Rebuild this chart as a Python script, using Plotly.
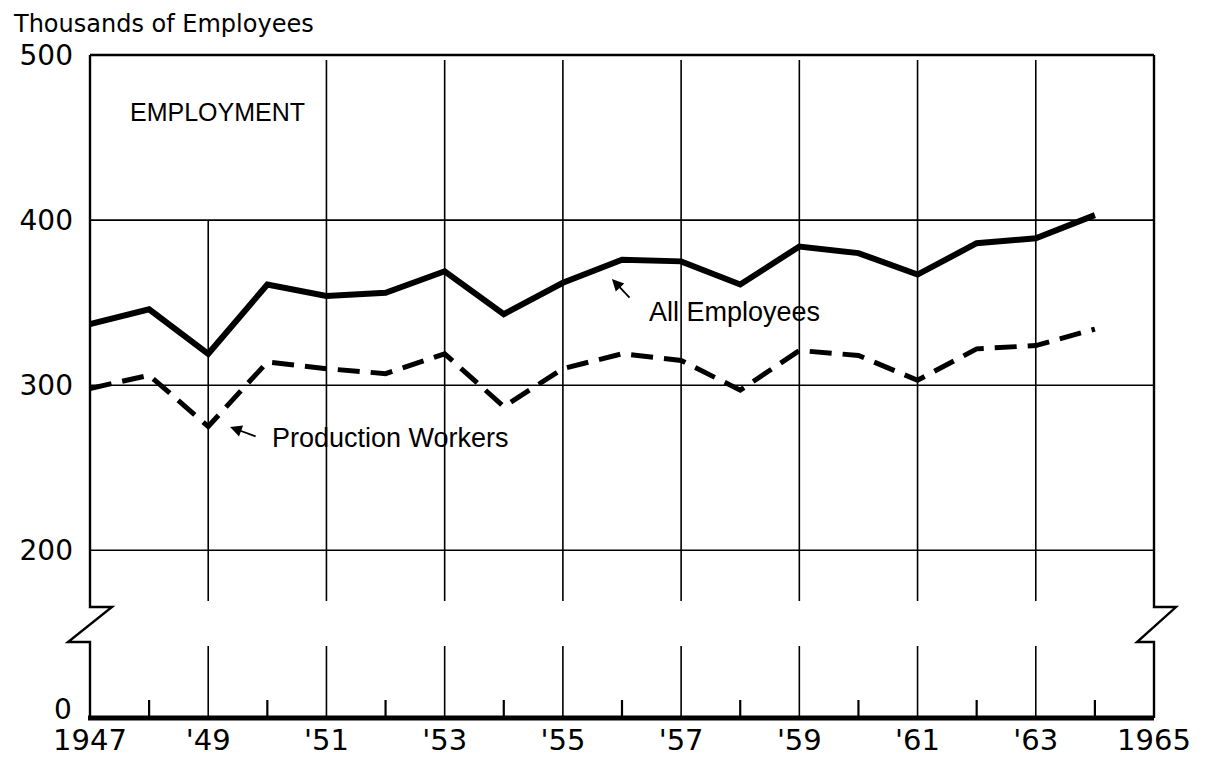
import plotly.graph_objects as go

# -------------------------------
# Data (thousands of employees)
# -------------------------------
years = list(range(1947, 1965))
all_employees = [337, 346, 319, 361, 354, 356, 369, 343, 362, 376, 375, 361, 384, 380, 367, 386, 389, 403]
production_workers = [298, 306, 275, 314, 310, 307, 319, 287, 310, 319, 315, 297, 321, 318, 303, 322, 324, 334]

x_tick_years = [1947, 1949, 1951, 1953, 1955, 1957, 1959, 1961, 1963, 1965]
x_tick_text = ["1947", "'49", "'51", "'53", "'55", "'57", "'59", "'61", "'63", "1965"]
y_tick_vals = [200, 300, 400, 500]
y_tick_text = ["200", "300", "400", "500"]

# -------------------------------
# Axis frame (broken scale: the "0" sits at the bottom of the frame)
# -------------------------------
X0, X1 = 1947, 1965
Y0, Y1 = 98.4, 500
BREAK_TOP, BREAK_BOT = 165.6, 144.4
W, H = 1064, 663  # plot area in px


def px(year):
    return (year - X0) / (X1 - X0)


def py(val):
    return (val - Y0) / (Y1 - Y0)


shapes = []
thin = dict(color="black", width=1.6)

# horizontal grid
for v in [200, 300, 400]:
    shapes.append(dict(type="line", xref="paper", yref="paper", x0=0, x1=1,
                       y0=py(v), y1=py(v), line=thin))

# vertical grid (odd years) and small ticks (even years)
for yr in range(1949, 1965, 2):
    top = 400 if yr == 1949 else 497
    shapes.append(dict(type="line", xref="paper", yref="paper", x0=px(yr), x1=px(yr),
                       y0=py(top), y1=py(169.3), line=thin))
    shapes.append(dict(type="line", xref="paper", yref="paper", x0=px(yr), x1=px(yr),
                       y0=py(142.0), y1=0, line=thin))
for yr in range(1948, 1965, 2):
    shapes.append(dict(type="line", xref="paper", yref="paper", x0=px(yr), x1=px(yr),
                       y0=py(109.3), y1=0, line=dict(color="black", width=2.2)))

# top border
shapes.append(dict(type="line", xref="paper", yref="paper", x0=0, x1=1, y0=1, y1=1,
                   line=dict(color="black", width=2.4)))

# left / right borders with break zigzag
def side_path(x, dx_out, dx_in):
    return (f"M {x},1 L {x},{py(BREAK_TOP)} L {x + dx_out / W},{py(BREAK_TOP)} "
            f"L {x - dx_in / W},{py(BREAK_BOT)} L {x},{py(BREAK_BOT)} L {x},0")


shapes.append(dict(type="path", xref="paper", yref="paper", path=side_path(0, 22, 22),
                   line=dict(color="black", width=2.4)))
shapes.append(dict(type="path", xref="paper", yref="paper", path=side_path(1, 22, 17),
                   line=dict(color="black", width=2.4)))

# heavy base line
shapes.append(dict(type="line", xref="paper", yref="paper", x0=-2 / W, x1=1, y0=0, y1=0,
                   line=dict(color="black", width=5)))

# -------------------------------
# Figure
# -------------------------------
fig = go.Figure()
fig.add_trace(go.Scatter(x=years, y=all_employees, mode="lines", name="All Employees",
                         line=dict(color="black", width=6)))
fig.add_trace(go.Scatter(x=years, y=production_workers, mode="lines", name="Production Workers",
                         line=dict(color="black", width=5, dash="22px,11px")))

label_font = dict(family="Liberation Sans", size=27, color="black")
annotations = [
    dict(text="Thousands of Employees", xref="paper", yref="paper", x=-79 / W, y=1 + 47 / H,
         xanchor="left", yanchor="top", showarrow=False,
         font=dict(family="DejaVu Sans", size=24, color="black")),
    dict(text="0", xref="paper", yref="paper", x=-16 / W, y=9 / H, xanchor="right",
         yanchor="middle", showarrow=False,
         font=dict(family="DejaVu Sans", size=28, color="black")),
    dict(text="EMPLOYMENT", x=1949.15, y=465.5, showarrow=False,
         font=dict(family="Liberation Sans", size=25, color="black")),
    dict(text="All Employees", x=1957.91, y=344.3, showarrow=False, font=label_font),
    dict(text="Production Workers", x=1952.09, y=268.0, showarrow=False, font=label_font),
    dict(text="", x=1955.83, y=364.3, ax=19, ay=20, showarrow=True,
         arrowhead=2, arrowsize=1.3, arrowwidth=1.8, arrowcolor="black"),
    dict(text="", x=1949.37, y=274.7, ax=27, ay=10, showarrow=True,
         arrowhead=2, arrowsize=1.3, arrowwidth=1.8, arrowcolor="black"),
]

# the page body has an 8px margin, so the figure is a bit smaller than the window
fig.update_layout(
    width=1199, height=751,
    margin=dict(l=82, r=53, t=47, b=41),
    paper_bgcolor="white", plot_bgcolor="white",
    showlegend=False,
    shapes=shapes,
    annotations=annotations,
    xaxis=dict(range=[X0, X1], tickvals=x_tick_years, ticktext=x_tick_text,
               showgrid=False, zeroline=False, showline=False, ticks="",
               ticklabelstandoff=2, automargin=False,
               tickfont=dict(family="DejaVu Sans", size=29, color="black")),
    yaxis=dict(range=[Y0, Y1], tickvals=y_tick_vals, ticktext=y_tick_text,
               showgrid=False, zeroline=False, showline=False, ticks="",
               ticklabelstandoff=16, automargin=False,
               tickfont=dict(family="DejaVu Sans", size=28, color="black")),
)

fig.write_html("out.html")
